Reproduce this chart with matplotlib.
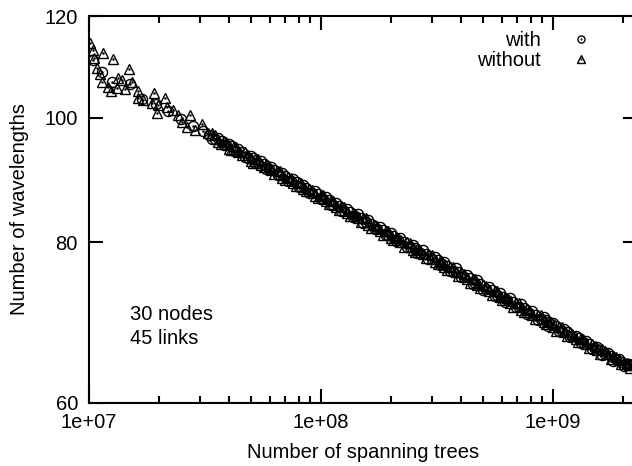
import matplotlib
matplotlib.use("Agg")
import matplotlib.pyplot as plt
from matplotlib.legend_handler import HandlerTuple
from matplotlib.ticker import FixedLocator, FixedFormatter, LogLocator, NullFormatter

plt.rcParams["font.family"] = ["Liberation Sans", "DejaVu Sans"]

# "without" series: number of spanning trees vs number of wavelengths
trees_without = [
    1.01e7, 1.04e7, 1.149e7, 1.051e7, 1.269e7, 1.083e7, 1.115e7, 1.487e7, 1.138e7, 1.207e7,
    1.244e7, 1.334e7, 1.388e7, 1.43e7, 1.532e7, 1.32e7, 1.626e7, 1.63e7, 1.71e7, 1.906e7,
    1.868e7, 1.983e7, 2.126e7, 2.169e7, 1.964e7, 2.302e7, 2.419e7, 2.725e7, 2.517e7, 2.645e7,
    3.07e7, 2.864e7, 3.259e7,
    3.4e7, 3.6e7, 3.8e7, 4.0e7, 4.2e7, 4.4e7, 4.7e7, 5.0e7, 5.2e7, 5.5e7, 5.8e7, 6.1e7, 6.5e7,
    6.8e7, 7.2e7, 7.6e7, 8.0e7, 8.4e7, 8.9e7, 9.4e7,
    1.0e8, 1.05e8, 1.1e8, 1.16e8, 1.22e8, 1.3e8, 1.37e8, 1.44e8, 1.52e8, 1.6e8, 1.7e8, 1.8e8,
    1.9e8, 2.0e8, 2.1e8, 2.2e8, 2.35e8, 2.5e8, 2.6e8, 2.75e8, 2.9e8, 3.1e8, 3.25e8, 3.4e8,
    3.6e8, 3.8e8, 4.0e8, 4.25e8, 4.5e8, 4.7e8, 5.0e8, 5.3e8, 5.6e8, 5.9e8, 6.2e8, 6.5e8,
    6.9e8, 7.3e8, 7.7e8, 8.1e8, 8.6e8, 9.1e8, 9.5e8,
    1.0e9, 1.06e9, 1.12e9, 1.18e9, 1.25e9, 1.32e9, 1.39e9, 1.47e9, 1.55e9, 1.63e9, 1.72e9,
    1.82e9, 1.92e9, 2.03e9, 2.12e9,
    3.5e7, 3.7e7, 3.9e7, 4.1e7, 4.3e7, 4.55e7, 4.85e7, 5.1e7, 5.35e7, 5.65e7, 5.95e7, 6.3e7,
    6.65e7, 7.0e7, 7.4e7, 7.8e7, 8.2e7, 8.65e7, 9.15e7, 9.7e7,
    1.02e8, 1.08e8, 1.13e8, 1.19e8, 1.26e8, 1.33e8, 1.4e8, 1.48e8, 1.56e8, 1.65e8, 1.75e8,
    1.85e8, 1.95e8, 2.05e8, 2.15e8, 2.28e8, 2.42e8, 2.55e8, 2.68e8, 2.82e8, 3.0e8, 3.18e8,
    3.32e8, 3.5e8, 3.7e8, 3.9e8, 4.12e8, 4.38e8, 4.6e8, 4.85e8, 5.15e8, 5.45e8, 5.75e8,
    6.05e8, 6.35e8, 6.7e8, 7.1e8, 7.5e8, 7.9e8, 8.35e8, 8.85e8, 9.3e8, 9.75e8,
    1.03e9, 1.09e9, 1.15e9, 1.21e9, 1.28e9, 1.35e9, 1.43e9, 1.51e9, 1.59e9, 1.67e9, 1.77e9,
    1.87e9, 1.97e9, 2.08e9, 2.15e9,
]
wl_without = [
    114.3, 112.9, 112.3, 111.3, 111.1, 109.3, 108.2, 109.1, 106.6, 105.7,
    104.9, 107.3, 107.0, 105.3, 106.6, 105.5, 104.9, 103.6, 103.2, 104.5,
    102.6, 102.3, 103.6, 101.9, 100.8, 101.4, 100.5, 100.5, 99.2, 98.3,
    98.9, 97.8, 97.4,
    97.3, 95.8, 96.0, 94.6, 95.0, 94.0, 94.1, 92.6, 92.9, 91.9, 92.1, 91.0, 90.9,
    89.8, 89.9, 88.9, 89.2, 88.1, 88.1, 87.0,
    87.0, 86.1, 86.3, 85.3, 85.4, 84.3, 84.3, 83.5, 83.5, 82.5, 82.5, 81.7,
    81.7, 80.7, 80.8, 80.0, 80.0, 78.9, 79.1, 78.3, 78.3, 77.3, 77.4, 76.5,
    76.6, 75.8, 75.9, 74.9, 74.9, 74.1, 74.1, 73.3, 73.3, 72.5, 72.6, 71.8,
    71.8, 70.9, 71.0, 70.2, 70.3, 69.4, 69.5,
    68.8, 68.8, 68.1, 68.1, 67.3, 67.4, 66.7, 66.7, 66.0, 66.1, 65.5,
    65.3, 64.8, 64.6, 64.2,
    96.9, 95.5, 95.7, 94.4, 94.9, 93.5, 93.6, 92.3, 92.9, 91.5, 91.7, 90.4,
    90.9, 89.5, 89.8, 88.5, 89.0, 87.7, 87.9, 86.6,
    87.1, 85.7, 86.1, 84.8, 85.3, 83.9, 84.2, 82.9, 83.5, 82.1, 82.4,
    81.1, 81.7, 80.4, 80.7, 79.4, 79.9, 78.6, 78.9, 77.8, 78.2, 76.9,
    77.3, 76.1, 76.6, 75.3, 75.6, 74.4, 74.9, 73.7, 74.0, 72.8, 73.3,
    72.1, 72.4, 71.3, 71.8, 70.6, 70.9, 69.8, 70.2, 69.1, 69.4,
    68.3, 68.7, 67.6, 67.9, 66.9, 67.3, 66.2, 66.5, 65.5, 65.9, 64.9,
    65.1, 64.3, 64.5, 63.9,
]

# "with" series
trees_with = [
    1.04e7, 1.138e7, 1.256e7, 1.502e7, 1.7e7, 1.95e7, 2.2e7, 2.5e7, 2.8e7, 3.1e7, 3.3e7,
    3.5e7, 3.7e7, 3.9e7, 4.1e7, 4.3e7, 4.55e7, 4.85e7, 5.1e7, 5.35e7, 5.65e7, 5.95e7, 6.3e7,
    6.65e7, 7.0e7, 7.4e7, 7.8e7, 8.2e7, 8.65e7, 9.15e7, 9.7e7,
    1.02e8, 1.08e8, 1.13e8, 1.19e8, 1.26e8, 1.33e8, 1.4e8, 1.48e8, 1.56e8, 1.65e8, 1.75e8,
    1.85e8, 1.95e8, 2.05e8, 2.15e8, 2.28e8, 2.42e8, 2.55e8, 2.68e8, 2.82e8, 3.0e8, 3.18e8,
    3.32e8, 3.5e8, 3.7e8, 3.9e8, 4.12e8, 4.38e8, 4.6e8, 4.85e8, 5.15e8, 5.45e8, 5.75e8,
    6.05e8, 6.35e8, 6.7e8, 7.1e8, 7.5e8, 7.9e8, 8.35e8, 8.85e8, 9.3e8, 9.75e8,
    1.03e9, 1.09e9, 1.15e9, 1.21e9, 1.28e9, 1.35e9, 1.43e9, 1.51e9, 1.59e9, 1.67e9, 1.77e9,
    1.87e9, 1.97e9, 2.08e9, 2.15e9,
    3.4e7, 3.6e7, 3.8e7, 4.0e7, 4.2e7, 4.4e7, 4.7e7, 5.0e7, 5.2e7, 5.5e7, 5.8e7, 6.1e7, 6.5e7,
    6.8e7, 7.2e7, 7.6e7, 8.0e7, 8.4e7, 8.9e7, 9.4e7,
    1.0e8, 1.05e8, 1.1e8, 1.16e8, 1.22e8, 1.3e8, 1.37e8, 1.44e8, 1.52e8, 1.6e8, 1.7e8, 1.8e8,
    1.9e8, 2.0e8, 2.1e8, 2.2e8, 2.35e8, 2.5e8, 2.6e8, 2.75e8, 2.9e8, 3.1e8, 3.25e8, 3.4e8,
    3.6e8, 3.8e8, 4.0e8, 4.25e8, 4.5e8, 4.7e8, 5.0e8, 5.3e8, 5.6e8, 5.9e8, 6.2e8, 6.5e8,
    6.9e8, 7.3e8, 7.7e8, 8.1e8, 8.6e8, 9.1e8, 9.5e8,
    1.0e9, 1.06e9, 1.12e9, 1.18e9, 1.25e9, 1.32e9, 1.39e9, 1.47e9, 1.55e9, 1.63e9, 1.72e9,
    1.82e9, 1.92e9, 2.03e9, 2.12e9,
]
wl_with = [
    110.9, 108.5, 106.6, 106.2, 103.5, 102.5, 101.2, 99.8, 98.6, 97.6, 97.0,
    96.2, 96.0, 95.2, 95.1, 94.3, 94.0, 93.1, 93.0, 92.2, 92.0, 91.3, 91.0,
    90.2, 90.1, 89.3, 89.1, 88.4, 88.2, 87.4, 87.2,
    86.5, 86.3, 85.6, 85.4, 84.7, 84.5, 83.8, 83.6, 82.9, 82.7, 82.0,
    81.8, 81.1, 80.9, 80.3, 80.1, 79.3, 79.2, 78.5, 78.4, 77.7, 77.5,
    76.9, 76.7, 76.0, 75.9, 75.2, 75.0, 74.4, 74.3, 73.6, 73.4, 72.8,
    72.6, 72.1, 71.9, 71.3, 71.1, 70.5, 70.3, 69.7, 69.6, 69.1,
    68.9, 68.3, 68.1, 67.6, 67.4, 66.9, 66.7, 66.2, 66.0, 65.5, 65.3,
    64.9, 64.6, 64.3, 64.2,
    96.3, 96.5, 95.2, 95.5, 94.3, 94.6, 93.2, 93.4, 92.3, 92.6, 91.3, 91.6, 90.2,
    90.6, 89.3, 89.6, 88.4, 88.7, 87.4, 87.7,
    86.4, 86.8, 85.6, 85.9, 84.7, 85.0, 83.7, 84.1, 82.8, 83.2, 81.9, 82.3,
    81.0, 81.4, 80.2, 80.6, 79.3, 79.6, 78.5, 78.9, 77.6, 77.9, 76.8, 77.2,
    76.0, 76.4, 75.2, 75.5, 74.3, 74.8, 73.5, 73.9, 72.7, 73.1, 71.9, 72.4,
    71.2, 71.6, 70.4, 70.8, 69.6, 70.0, 68.9,
    69.3, 68.3, 68.5, 67.5, 67.7, 66.8, 67.0, 66.1, 66.3, 65.4, 65.6,
    64.7, 64.9, 64.1, 64.3,
]

x_ticks = [1e7, 1e8, 1e9]
x_tick_labels = ["1e+07", "1e+08", "1e+09"]
y_ticks = [60, 80, 100, 120]
y_tick_labels = ["60", "80", "100", "120"]


def main():
    fig = plt.figure(figsize=(6.32, 4.66), dpi=100)
    ax = fig.add_axes([89 / 632, 63 / 466, 548 / 632, 387 / 466])

    ms = 7.3
    c_open, = ax.plot(trees_with, wl_with, ls="none", marker="o", ms=ms,
                      mfc="none", mec="black", mew=1.0)
    c_dot, = ax.plot(trees_with, wl_with, ls="none", marker=".", ms=1.6, color="black")
    t_open, = ax.plot(trees_without, wl_without, ls="none", marker="^", ms=ms,
                      mfc="none", mec="black", mew=1.0)
    t_dot, = ax.plot(trees_without, wl_without, ls="none", marker=".", ms=1.6, color="black")

    ax.set_xscale("log")
    ax.set_yscale("log")
    ax.set_xlim(1e7, 2.3e9)
    ax.set_ylim(60, 120)

    ax.xaxis.set_major_locator(FixedLocator(x_ticks))
    ax.xaxis.set_major_formatter(FixedFormatter(x_tick_labels))
    ax.xaxis.set_minor_locator(LogLocator(base=10, subs=range(2, 10)))
    ax.xaxis.set_minor_formatter(NullFormatter())
    ax.yaxis.set_major_locator(FixedLocator(y_ticks))
    ax.yaxis.set_major_formatter(FixedFormatter(y_tick_labels))
    ax.yaxis.set_minor_locator(FixedLocator([]))

    ax.tick_params(which="both", direction="in", top=True, right=True,
                   width=1.5, labelsize=14.5, colors="black")
    ax.tick_params(which="major", length=10)
    ax.tick_params(axis="x", which="major", pad=7)
    ax.tick_params(axis="y", which="major", pad=8)
    ax.tick_params(which="minor", length=5)
    for s in ax.spines.values():
        s.set_linewidth(1.5)

    ax.set_xlabel("Number of spanning trees", fontsize=14.5, labelpad=8)
    ax.set_ylabel("Number of wavelengths", fontsize=14.5, labelpad=11)

    ax.text(130 / 632, 1 - 315 / 466, "30 nodes", transform=fig.transFigure,
            fontsize=14.5, va="center", ha="left")
    ax.text(130 / 632, 1 - 338 / 466, "45 links", transform=fig.transFigure,
            fontsize=14.5, va="center", ha="left")

    ax.legend([(c_open, c_dot), (t_open, t_dot)], ["with", "without"],
              handler_map={tuple: HandlerTuple(ndivide=1)},
              loc="upper right", bbox_to_anchor=(0.935, 0.934),
              bbox_transform=fig.transFigure, frameon=False, markerfirst=False,
              fontsize=14.5, borderpad=0, borderaxespad=0, labelspacing=0.07,
              handlelength=1.0, handletextpad=1.5, markerscale=0.7)

    fig.savefig("out.png", dpi=100)
    plt.close(fig)


if __name__ == "__main__":
    main()
